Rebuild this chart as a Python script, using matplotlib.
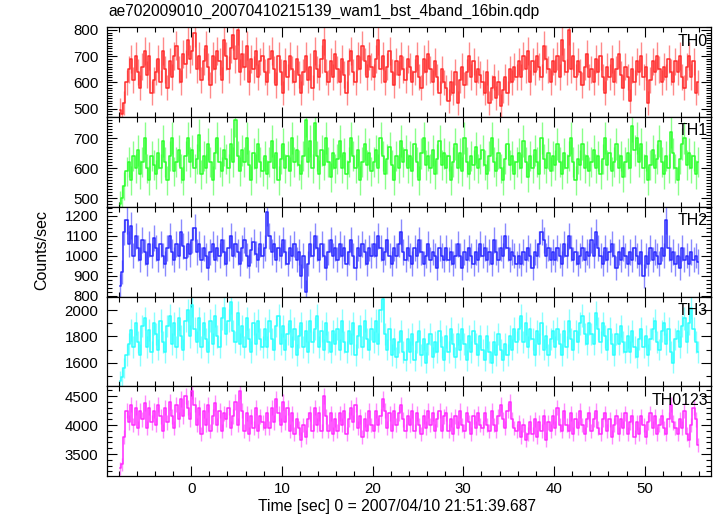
import numpy as np
import matplotlib
matplotlib.use('Agg')
import matplotlib.pyplot as plt
from matplotlib.ticker import MultipleLocator

plt.rcParams['font.family'] = ['Liberation Sans', 'DejaVu Sans']

title = 'ae702009010_20070410215139_wam1_bst_4band_16bin.qdp'
xlabel = 'Time [sec] 0 = 2007/04/10 21:51:39.687'
ylabel = 'Counts/sec'

# bin centres, 0.25 s bins from -8 to 56 s
t_start = -8.0
t_bin = 0.25

th0 = [
    495, 480, 520, 600, 650, 690, 610, 700, 640, 580, 660, 720, 630, 700, 560, 610,
    640, 690, 600, 720, 650, 580, 680, 620, 700, 740, 650, 600, 710, 670, 760, 690,
    720, 790, 650, 700, 610, 680, 740, 660, 590, 700, 650, 720, 680, 610, 760, 700,
    650, 730, 780, 690, 800, 640, 710, 660, 740, 600, 690, 650, 720, 620, 680, 700,
    640, 600, 690, 720, 650, 590, 700, 640, 560, 680, 620, 700, 650, 600, 690, 630,
    560, 640, 700, 610, 660, 580, 720, 650, 620, 690, 760, 640, 600, 680, 620, 710,
    650, 600, 690, 630, 560, 680, 720, 640, 600, 700, 650, 740, 680, 620, 700, 660,
    620, 690, 760, 650, 700, 600, 660, 720, 640, 590, 680, 630, 700, 650, 610, 690,
    660, 600, 640, 700, 620, 580, 690, 640, 710, 650, 600, 680, 620, 560, 650, 600,
    580, 530, 600, 560, 640, 520, 610, 660, 590, 640, 700, 620, 680, 600, 650, 630,
    600, 560, 640, 520, 580, 620, 540, 600, 510, 570, 620, 560, 650, 600, 660, 620,
    680, 620, 700, 650, 720, 600, 680, 640, 700, 660, 620, 740, 690, 650, 600, 680,
    640, 700, 620, 760, 680, 640, 800, 650, 700, 620, 680, 640, 590, 660, 710, 620,
    650, 600, 690, 640, 700, 620, 560, 660, 620, 690, 600, 650, 710, 630, 580, 660,
    620, 530, 650, 600, 680, 640, 700, 620, 660, 520, 610, 680, 640, 700, 650, 600,
    660, 620, 690, 640, 600, 680, 640, 700, 620, 580, 660, 700, 620, 680, 560, 600,
]

th1 = [
    480, 500, 540, 590, 620, 560, 640, 600, 660, 580, 620, 700, 600, 560, 640, 610,
    580, 650, 600, 690, 620, 560, 640, 700, 590, 620, 660, 600, 560, 640, 700, 620,
    660, 600, 630, 710, 580, 640, 600, 680, 620, 560, 650, 700, 620, 590, 660, 630,
    600, 680, 620, 760, 640, 590, 660, 620, 700, 610, 560, 650, 600, 680, 620, 590,
    640, 580, 620, 690, 600, 650, 560, 630, 680, 600, 640, 590, 700, 620, 660, 610,
    580, 640, 760, 620, 690, 600, 750, 640, 580, 660, 610, 700, 620, 570, 650, 600,
    630, 690, 600, 650, 580, 620, 700, 640, 600, 660, 560, 620, 680, 610, 650, 590,
    620, 660, 600, 700, 640, 580, 630, 670, 610, 560, 640, 600, 690, 620, 660, 600,
    640, 590, 680, 620, 560, 650, 700, 610, 640, 600, 660, 580, 630, 690, 610, 650,
    600, 640, 560, 620, 680, 600, 650, 590, 700, 620, 580, 640, 610, 670, 600, 630,
    660, 610, 580, 640, 700, 620, 590, 650, 600, 560, 630, 680, 610, 640, 580, 620,
    650, 600, 690, 620, 570, 640, 600, 660, 620, 580, 700, 630, 600, 650, 590, 640,
    610, 680, 620, 580, 650, 600, 640, 700, 620, 560, 630, 610, 680, 600, 640, 590,
    620, 660, 600, 640, 580, 630, 700, 610, 650, 590, 620, 680, 600, 640, 570, 620,
    650, 600, 740, 660, 700, 620, 680, 600, 640, 560, 610, 660, 600, 630, 690, 620,
    580, 640, 600, 720, 650, 600, 560, 630, 680, 700, 610, 650, 600, 640, 580, 620,
]

th2 = [
    850, 920, 1120, 1180, 1060, 1150, 1000, 1100, 1040, 980, 1080, 1020, 960, 1060, 1000, 1090,
    1040, 980, 1060, 1000, 960, 1040, 1100, 1020, 980, 1060, 1000, 1120, 1050, 990, 1060, 1010,
    1080, 1140, 1020, 1060, 980, 1040, 1000, 940, 1020, 1060, 980, 1040, 1000, 1080, 1020, 960,
    1040, 1100, 1000, 1060, 1020, 960, 1040, 1080, 1000, 950, 1030, 1070, 1010, 980, 1060, 1000,
    1040, 1220, 1100, 1020, 1060, 980, 1040, 1000, 1080, 1020, 960, 1040, 1000, 1060, 980, 1020,
    900, 1000, 820, 960, 1060, 1000, 1100, 1040, 980, 1060, 1000, 940, 1020, 1080, 1000, 1040,
    980, 1060, 1000, 1040, 960, 1020, 1080, 1000, 940, 1040, 1000, 1060, 1020, 960, 1040, 1000,
    1060, 1000, 1100, 1040, 980, 1020, 1080, 1000, 960, 1040, 1000, 1060, 1120, 1020, 980, 1040,
    1000, 960, 1040, 1000, 1080, 1020, 960, 1000, 1060, 980, 1020, 1000, 940, 1040, 1000, 980,
    1040, 980, 1020, 960, 1000, 1060, 1000, 940, 1020, 980, 1040, 1000, 960, 1020, 980, 1060,
    1000, 1040, 980, 1020, 960, 1080, 1020, 980, 1040, 1000, 1100, 1040, 980, 1020, 1000, 960,
    1000, 960, 1020, 980, 1040, 1000, 940, 1020, 1000, 1060, 1120, 1080, 1000, 1040, 980, 1020,
    980, 1040, 1000, 960, 1060, 1000, 1100, 1040, 980, 1020, 960, 1000, 1040, 980, 1020, 1000,
    1080, 1000, 1120, 1040, 1000, 960, 1040, 980, 1020, 1060, 1000, 940, 1020, 980, 1040, 1000,
    960, 1020, 980, 1040, 1000, 960, 1020, 900, 1000, 960, 1040, 980, 1020, 1000, 960, 1040,
    1000, 1180, 1040, 980, 1020, 960, 1000, 940, 1040, 980, 1000, 960, 1020, 980, 1000, 970,
]

th3 = [
    1460, 1490, 1560, 1660, 1740, 1850, 1720, 1900, 1760, 1660, 1880, 1940, 1720, 1850, 1680, 1900,
    1820, 1700, 1920, 1760, 1680, 1880, 1960, 1740, 1900, 1720, 1940, 1800, 1700, 1920, 2000, 1800,
    2040, 1860, 1760, 1940, 1720, 1900, 1780, 1680, 1920, 1740, 1960, 1800, 1720, 1940, 2020, 1820,
    1920, 2060, 1840, 1760, 1980, 1740, 1880, 1720, 1940, 1780, 1680, 1900, 1740, 1920, 1780, 1720,
    1860, 1720, 1920, 1780, 1700, 1880, 1960, 1740, 1880, 1700, 1820, 1920, 1720, 1860, 1660, 1800,
    1900, 1720, 1840, 1680, 1920, 1760, 1860, 1960, 1720, 1840, 1700, 1900, 1760, 1680, 1840, 1740,
    1860, 1700, 1920, 1760, 1680, 1840, 1740, 1900, 1660, 1800, 1880, 1720, 1920, 1780, 1700, 1860,
    1760, 1920, 1740, 2000, 2090, 1820, 1700, 1860, 1660, 1780, 1640, 1760, 1840, 1680, 1620, 1780,
    1680, 1820, 1620, 1760, 1840, 1660, 1780, 1600, 1740, 1820, 1640, 1760, 1680, 1840, 1720, 1620,
    1800, 1680, 1860, 1740, 1640, 1820, 1700, 1860, 1740, 1620, 1800, 1680, 1840, 1740, 1660, 1800,
    1700, 1620, 1800, 1680, 1600, 1760, 1660, 1820, 1700, 1620, 1740, 1660, 1800, 1700, 1860, 1760,
    1860, 1960, 1760, 1900, 1720, 1860, 1780, 1660, 1840, 1740, 1900, 1700, 1800, 1660, 1780, 1840,
    1720, 1860, 1740, 1660, 1840, 1720, 1920, 1780, 1700, 1840, 1760, 1900, 1960, 1820, 1740, 1900,
    1820, 1740, 1980, 1860, 1760, 1900, 1800, 1700, 1860, 1740, 1660, 1820, 1740, 1880, 1760, 1680,
    1800, 1680, 1840, 1720, 1640, 1780, 1860, 1720, 1800, 1660, 1780, 1860, 1920, 1760, 1700, 1840,
    1900, 1740, 1860, 1680, 1600, 1780, 1840, 1720, 1880, 1940, 1760, 1900, 2020, 1860, 1760, 1680,
]

th0123 = [
    3250, 3320, 3800, 4250, 4050, 4350, 4000, 4300, 3950, 4250, 4100, 4380, 3950, 4300, 4050, 4250,
    4000, 4350, 4150, 3900, 4300, 4050, 4400, 4150, 3950, 4350, 4100, 4450, 4150, 4500, 4300, 4100,
    4580, 4350, 4000, 4300, 3850, 4250, 4000, 4350, 3900, 4150, 4380, 4000, 4250, 3900, 4200, 4100,
    4300, 3950, 4150, 4400, 4000, 4580, 4250, 3900, 4200, 3850, 4150, 3950, 4300, 3900, 4150, 4050,
    3950, 4200, 3950, 4300, 4050, 4450, 4200, 4000, 4400, 4050, 4300, 3900, 4200, 3850, 4100, 3950,
    3750, 4000, 3800, 4100, 4200, 3900, 4300, 4000, 4200, 3900, 4500, 4150, 3900, 4200, 3850, 4100,
    3900, 4200, 4000, 4250, 3850, 4100, 4300, 4050, 4350, 3950, 4150, 3800, 4100, 3900, 4250, 4000,
    3900, 4250, 4000, 4150, 4450, 4250, 3950, 4200, 3900, 4250, 4000, 4200, 4350, 4100, 3900, 4150,
    4000, 4250, 3900, 4200, 4000, 3850, 4150, 3950, 4250, 4000, 4200, 3900, 4100, 4250, 3900, 4150,
    4200, 3900, 4100, 3850, 4150, 3950, 4250, 4000, 3900, 4200, 4050, 3850, 4150, 3950, 4200, 4000,
    3950, 4200, 4000, 3900, 4250, 4000, 3900, 4150, 4350, 4100, 3950, 4250, 4400, 4100, 3950, 3900,
    4050, 3800, 4000, 3750, 3850, 4050, 3850, 4100, 3800, 4050, 3900, 4150, 3750, 4050, 3900, 4150,
    3950, 4300, 4000, 3900, 4250, 4000, 3900, 4200, 3850, 4100, 3950, 4250, 4000, 3850, 4100, 4200,
    3900, 4100, 4250, 3950, 3850, 4100, 4200, 3900, 4100, 3800, 4000, 4150, 3850, 4100, 3950, 4200,
    3850, 4050, 4150, 3800, 4050, 3850, 4150, 4000, 3800, 4050, 4200, 3950, 4150, 3850, 4000, 4150,
    3950, 3850, 4100, 4350, 4050, 3950, 3850, 4100, 3950, 4250, 3850, 3750, 4000, 4300, 4100, 3650,
]

names = ['TH0', 'TH1', 'TH2', 'TH3', 'TH0123']
series = [th0, th1, th2, th3, th0123]
colors = ['#ff2a2a', '#2aff2a', '#2a2aff', '#2affff', '#ff2aff']
ylims = [(468, 810), (472, 770), (796, 1246), (1420, 2105), (3120, 4670)]
ymajor = [100, 100, 100, 200, 500]
yminor = [10, 10, 20, 100, 100]

fig, axes = plt.subplots(5, 1, sharex=True, figsize=(7.17, 5.16), dpi=100)
fig.subplots_adjust(left=0.149, right=0.9916, top=0.947, bottom=0.0775, hspace=0)

for i, ax in enumerate(axes):
    y = np.array(series[i], dtype=float)
    t = t_start + t_bin / 2 + t_bin * np.arange(len(y))
    err = np.sqrt(y / t_bin)  # Poisson error of a 0.25 s bin
    ax.errorbar(t, y, yerr=err, fmt='none', ecolor=colors[i], elinewidth=1.0, alpha=0.55)
    ax.step(t, y, where='mid', color=colors[i], lw=1.1)
    ax.set_ylim(*ylims[i])
    ax.set_xlim(-9.3, 57.3)
    ax.yaxis.set_major_locator(MultipleLocator(ymajor[i]))
    ax.yaxis.set_minor_locator(MultipleLocator(yminor[i]))
    ax.xaxis.set_major_locator(MultipleLocator(10))
    ax.xaxis.set_minor_locator(MultipleLocator(2))
    ax.tick_params(which='both', direction='in', top=True, right=True, labelsize=10.8, width=0.8)
    ax.tick_params(which='major', length=7)
    ax.tick_params(which='minor', length=3.5)
    ax.tick_params(axis='y', pad=6)
    for s in ax.spines.values():
        s.set_linewidth(0.9)
    ax.text(0.995, 0.93, names[i], transform=ax.transAxes, ha='right', va='top', fontsize=11.5)

axes[-1].tick_params(axis='x', pad=4)
fig.text(0.554, 0.018, xlabel, ha='center', va='center', fontsize=11.3)
fig.text(0.058, 0.515, ylabel, rotation=90, ha='center', va='center', fontsize=11.5)
fig.text(0.151, 0.977, title, ha='left', va='center', fontsize=11.2)

fig.savefig('out.png', dpi=100)
